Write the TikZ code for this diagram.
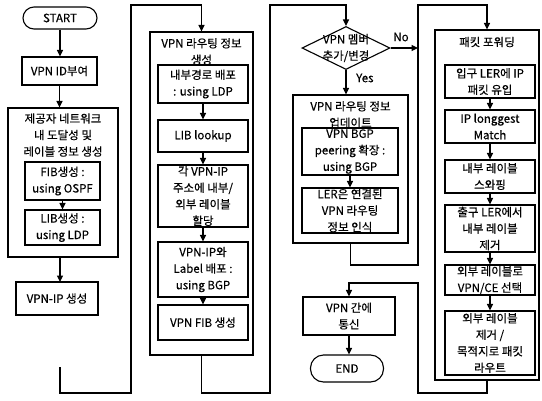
\documentclass[tikz,border=0pt]{standalone}
\usepackage{fontspec}
\setmainfont{Noto Sans CJK KR}[FakeBold=0.4]
\usetikzlibrary{arrows.meta,shapes.geometric}
\begin{document}
\begin{tikzpicture}[x=1pt,y=-1pt,
  txt/.style={inner sep=0pt, align=center, font=\fontsize{11.5}{16.5}\selectfont},
  box/.style={txt, draw, line width=1.1pt},
  term/.style={box, rounded corners=11pt},
  ln/.style={line width=1.2pt},
  arr/.style={ln, -{Triangle[length=6.5pt,width=6pt]}}]
\useasboundingbox (0,0) rectangle (542,400);
% ---------- column 1
\node[term, minimum width=74pt, minimum height=22pt] (start) at (60,18) {START};
\node[box, minimum width=75pt, minimum height=28pt] (vpnid) at (59.5,71) {VPN ID부여};
\node[box, minimum width=110pt, minimum height=149pt] (boxA) at (63,182.5) {};
\node[txt] (titA) at (63,135) {제공자 네트워크\\내 도달성 및\\레이블 정보 생성};
\node[box, minimum width=75pt, minimum height=38pt] (fib) at (62.5,181) {FIB생성 :\\using OSPF};
\node[box, minimum width=75pt, minimum height=35pt] (lib) at (62.5,227.5) {LIB생성 :\\using LDP};
\node[box, minimum width=82pt, minimum height=33pt] (vpnip) at (57,298.5) {VPN-IP 생성};
\coordinate (c1s) at (60,367);
\draw[arr] (start.south) -- (start.south |- vpnid.north);
\draw[arr] (vpnid.south) -- (vpnid.south |- boxA.north);
\draw[arr] (fib.south) -- (lib.north);
\draw[arr] (60,257) -- (60,282);
% ---------- column 2
\node[box, minimum width=103pt, minimum height=323pt] (boxB) at (201.5,193.5) {};
\node[txt] (titB) at (201.5,51.5) {VPN 라우팅 정보\\생성};
\node[box, minimum width=90pt, minimum height=38pt] (in1) at (203,84) {내부경로 배포\\: using LDP};
\node[box, minimum width=90pt, minimum height=32pt] (lib2) at (203,136) {LIB lookup};
\node[box, minimum width=90pt, minimum height=62pt] (alloc) at (203,196) {각 VPN-IP\\주소에 내부/\\외부 레이블\\할당};
\node[box, minimum width=90pt, minimum height=55pt] (lbl) at (203,269.5) {VPN-IP와\\Label 배포 :\\using BGP};
\node[box, minimum width=90pt, minimum height=35pt] (fib2) at (203,322.5) {VPN FIB 생성};
\draw[arr] (c1s) -- (60,393) -- (131,393) -- (131,5) -| (boxB.north);
\draw[arr] (in1.south) -- (lib2.north);
\draw[arr] (lib2.south) -- (alloc.north);
\draw[arr] (alloc.south) -- (lbl.north);
\draw[arr] (lbl.south) -- (fib2.north);
% ---------- column 3
\node[diamond, draw, line width=1.1pt, minimum width=88pt, minimum height=43pt, inner sep=0pt] (dec) at (346,48) {};
\node[txt] (decT) at (dec.center) {VPN 멤버\\추가/변경};
\node[box, minimum width=115pt, minimum height=148pt] (boxC) at (350.5,169) {};
\node[txt] (titC) at (350.5,114.5) {VPN 라우팅 정보\\업데이트};
\node[box, minimum width=96pt, minimum height=47pt] (bgp) at (350,151.5) {VPN BGP\\peering 확장 :\\using BGP};
\node[box, minimum width=96pt, minimum height=45pt] (ler) at (350,210.5) {LER은 연결된\\VPN 라우팅\\정보 인식};
\node[box, minimum width=92pt, minimum height=38pt] (comm) at (349,316) {VPN 간에\\통신};
\node[term, minimum width=73pt, minimum height=27pt, rounded corners=13pt] (end) at (347,368.5) {END};
\draw[arr] (boxB.south) -- (201.5,393) -- (270,393) -- (270,5) -| (dec.north);
\draw[arr] (dec.south) -- (dec.south |- boxC.north);
\node[txt, anchor=west] (yes) at (356,78) {Yes};
\coordinate (noEnd) at (418,48);
\draw[arr] (dec.east) -- (noEnd);
\node[txt] (no) at (401,37) {No};
\draw[arr] (bgp.south) -- (ler.north);
\draw[arr] (comm.south) -- (comm.south |- end.north);
% ---------- column 4
\node[box, minimum width=104pt, minimum height=350pt] (boxD) at (487,205) {};
\node[txt] (titD) at (487,42) {패킷 포워딩};
\node[box, minimum width=90pt, minimum height=33pt] (d1) at (490,81.5) {입구 LER에 IP\\패킷 유입};
\node[box, minimum width=90pt, minimum height=33pt] (d2) at (490,126.5) {IP longgest\\Match};
\node[box, minimum width=90pt, minimum height=33pt] (d3) at (490,176.5) {내부 레이블\\스와핑};
\node[box, minimum width=90pt, minimum height=47pt] (d4) at (490,228.5) {출구 LER에서\\내부 레이블\\제거};
\node[box, minimum width=90pt, minimum height=30pt] (d5) at (490,280) {외부 레이블로\\VPN/CE 선택};
\node[box, minimum width=90pt, minimum height=64pt] (d6) at (490,343) {외부 레이블\\제거 /\\목적지로 패킷\\라우트};
\draw[arr] (boxC.south) -- (350.5,265) -- (418,265) -- (418,5) -| (boxD.north);
\draw[arr] (d1.south) -- (d2.north);
\draw[arr] (d2.south) -- (d3.north);
\draw[arr] (d3.south) -- (d4.north);
\draw[arr] (d4.south) -- (d5.north);
\draw[arr] (d5.south) -- (d6.north);
\draw[arr] (boxD.south) -- (487,393) -- (418,393) -- (418,283) -| (comm.north);
\end{tikzpicture}
\end{document}
